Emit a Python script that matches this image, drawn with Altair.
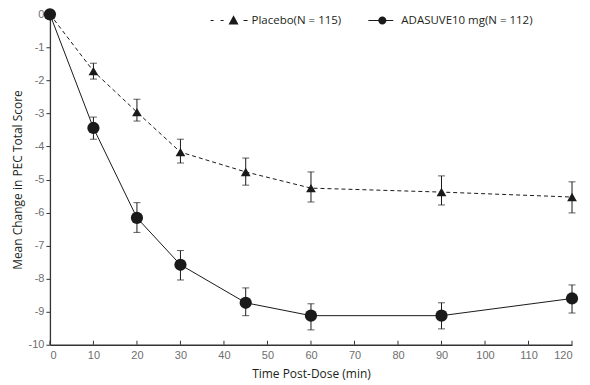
import altair as alt
import pandas as pd

time = [0, 10, 20, 30, 45, 60, 90, 120]
placebo_mean = [0, -1.72, -2.96, -4.17, -4.77, -5.26, -5.38, -5.53]
placebo_lo = [0, -1.96, -3.23, -4.50, -5.17, -5.68, -5.77, -6.01]
placebo_hi = [0, -1.48, -2.57, -3.78, -4.35, -4.77, -4.89, -5.07]
adasuve_mean = [0, -3.44, -6.16, -7.58, -8.73, -9.12, -9.12, -8.60]
adasuve_lo = [0, -3.78, -6.60, -8.04, -9.12, -9.55, -9.52, -9.04]
adasuve_hi = [0, -3.11, -5.70, -7.15, -8.28, -8.76, -8.73, -8.19]

series_names = ["Placebo(N = 115)", "ADASUVE10 mg(N = 112)"]
x_ticks = [0, 10, 20, 30, 40, 50, 60, 70, 80, 90, 100, 110, 120]
y_ticks = [0, -1, -2, -3, -4, -5, -6, -7, -8, -9, -10]

rows = []
for i, t in enumerate(time):
    rows.append({"t": t, "m": placebo_mean[i], "lo": placebo_lo[i], "hi": placebo_hi[i], "s": series_names[0]})
for i, t in enumerate(time):
    rows.append({"t": t, "m": adasuve_mean[i], "lo": adasuve_lo[i], "hi": adasuve_hi[i], "s": series_names[1]})
df = pd.DataFrame(rows)

INK = "#1a1a1a"
xs = alt.Scale(domain=[0, 120], nice=False)
ys = alt.Scale(domain=[-10, 0], nice=False)

x_axis = alt.Axis(values=x_ticks, ticks=False, grid=False, labelPadding=5,
                  titlePadding=8, labelOverlap=False)
y_axis = alt.Axis(values=y_ticks, grid=False, tickSize=4, labelPadding=2,
                  labelExpr="'' + datum.value", titlePadding=4, labelOverlap=False)
XT = "Time Post-Dose (min)"
YT = "Mean Change in PEC Total Score"


def X(f="t"):
    return alt.X(f"{f}:Q", scale=xs, title=XT, axis=x_axis)


def Y(f):
    return alt.Y(f"{f}:Q", scale=ys, title=YT, axis=y_axis)


base = alt.Chart(df)
eb = base.transform_filter("datum.t > 0")

err_rule = eb.mark_rule(color=INK, strokeWidth=1).encode(x=X(), y=Y("lo"), y2="hi:Q")
cap_lo = eb.mark_tick(color=INK, orient="horizontal", size=7, thickness=1).encode(x=X(), y=Y("lo"))
cap_hi = eb.mark_tick(color=INK, orient="horizontal", size=7, thickness=1).encode(x=X(), y=Y("hi"))

pl = base.transform_filter(alt.datum.s == series_names[0])
ad = base.transform_filter(alt.datum.s == series_names[1])

line_p = pl.mark_line(color=INK, strokeWidth=1, strokeDash=[4, 3]).encode(x=X(), y=Y("m"))
line_a = ad.mark_line(color=INK, strokeWidth=1).encode(x=X(), y=Y("m"))
pts_p = pl.mark_point(shape="triangle-up", filled=True, color=INK, size=95, opacity=1).encode(x=X(), y=Y("m"))
pts_a = ad.mark_point(shape="circle", filled=True, color=INK, size=150, opacity=1).encode(x=X(), y=Y("m"))

# x-axis tick marks pointing inward
tick_df = pd.DataFrame({"t": x_ticks})
xtick_marks = alt.Chart(tick_df).mark_rule(color="#333333", strokeWidth=1).encode(
    x=X(), y=alt.value(327), y2=alt.value(331))

h = 0.03
path_p = (f"M-1,-{h}H-0.84V{h}H-1Z"
          f"M-0.46,-{h}H-0.3V{h}H-0.46Z"
          "M-0.03,0.22L0.24,-0.28L0.51,0.22Z"
          f"M0.78,-{h}H1V{h}H0.78Z")
path_a = (f"M-0.57,-{h}H-0.01V{h}H-0.57Z"
          f"M0.39,-{h}H0.78V{h}H0.39Z"
          "M0.41,0A0.22,0.22 0 1,1 -0.03,0A0.22,0.22 0 1,1 0.41,0Z")

legend_layer = base.transform_filter("false").mark_point(
    filled=True, color=INK, opacity=1).encode(
    shape=alt.Shape("s:N", scale=alt.Scale(domain=series_names, range=[path_p, path_a]),
                    legend=alt.Legend(title=None, orient="none", direction="horizontal",
                                      legendX=160, legendY=-13.5, symbolSize=1369,
                                      symbolFillColor=INK, symbolOpacity=1,
                                      labelFont="Open Sans", labelFontSize=11.5,
                                      labelColor="#231f20", labelOffset=3,
                                      columnPadding=18, padding=0))
)

chart = alt.layer(
    xtick_marks, err_rule, cap_lo, cap_hi, line_p, pts_p, line_a, pts_a, legend_layer
).properties(
    width=523, height=331,
    autosize=alt.AutoSizeParams(type="none"),
    padding={"left": 42, "top": 6, "right": 10, "bottom": 40},
).configure_view(stroke=None).configure_axis(
    domainColor="#333333", domainWidth=1.3, tickColor="#333333", tickWidth=1,
    labelFont="Liberation Sans", labelFontSize=11, labelColor="#6e6e6e",
    titleFont="Open Sans", titleFontSize=12, titleFontWeight="normal", titleColor="#231f20",
)

chart.save("out.html", embed_options={"renderer": "svg", "actions": False})
